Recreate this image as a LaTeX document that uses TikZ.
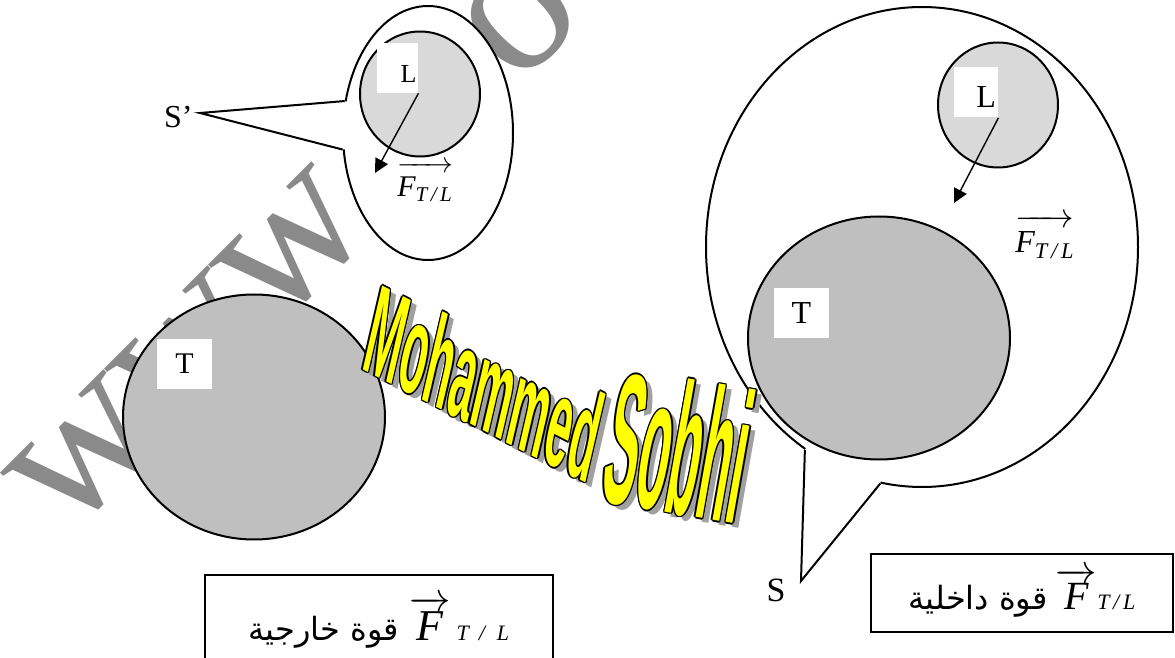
\documentclass[tikz,border=0pt]{standalone}
\usepackage{amsmath}
\usepackage{fontspec}
\setmainfont{Liberation Serif}
\newfontfamily\arabicfont[Script=Arabic]{DejaVu Sans}
\newfontfamily\artfont{Liberation Sans}
\TeXXeTstate=1
\usetikzlibrary{shapes.geometric, arrows.meta, calc}
\definecolor{moongray}{HTML}{D9D9D9}
\definecolor{earthgray}{HTML}{BFBFBF}
\definecolor{artyellow}{HTML}{FFFF00}
\definecolor{markgray}{HTML}{8A8A8A}
\definecolor{shadegray}{HTML}{A0A0A0}
\tikzset{
  bubble/.style={ellipse, draw=black, fill=white, line width=1pt, inner sep=0pt},
  moon/.style={ellipse, draw=black, fill=moongray, line width=1pt, inner sep=0pt},
  earth/.style={ellipse, draw=black, fill=earthgray, line width=1pt, inner sep=0pt},
  tag/.style={rectangle, fill=white, inner sep=0pt, minimum height=25pt, text depth=0pt},
  force/.style={-{Triangle[length=7pt,width=7pt]}, line width=0.7pt},
  pointer/.style={line width=1pt, line join=miter},
  flabel/.style={inner sep=0pt, anchor=base west},
  legend/.style={rectangle, draw=black, line width=1pt, inner sep=0pt},
  wordart/.style={font=\artfont\bfseries\fontsize{20}{20}\selectfont, inner sep=0pt, anchor=base west},
  watermark/.style={font=\fontsize{102}{102}\selectfont, text=markgray, inner sep=0pt,
                    anchor=base west, rotate=45},
}

\begin{document}
\begin{tikzpicture}[x=0.5pt, y=-0.5pt]
  \clip (0,0) rectangle (1175,658);
  \fill[white] (0,0) rectangle (1175,658);

  % --- watermark ---
  \node[watermark] (wm) at (66,540) {www.\kern79pt o};

  % --- bubble S' ---
  \node[bubble, minimum width=85pt, minimum height=127pt] (bubA) at (428,133) {};
  \coordinate (tipA) at (200,113);
  \fill[white] (tipA) -- (bubA.159) -- ($(bubA.159)!3pt!(bubA.center)$)
        -- ($(bubA.191)!3pt!(bubA.center)$) -- (bubA.191) -- cycle;
  \draw[pointer] (bubA.159) -- (tipA) -- (bubA.191);

  % --- bubble S ---
  \node[bubble, minimum width=216pt, minimum height=240pt] (bubB) at (922,247) {};
  \coordinate (tipB) at (801,581);
  \fill[white] (tipB) -- (bubB.240) -- ($(bubB.240)!3pt!(bubB.center)$)
        -- ($(bubB.260)!3pt!(bubB.center)$) -- (bubB.260) -- cycle;
  \draw[pointer] (bubB.240) -- (tipB) -- (bubB.260);

  % --- L and T bodies ---
  \node[moon, minimum width=60pt, minimum height=62.5pt] (moonA) at (420,94) {};
  \node[moon, minimum width=60pt, minimum height=62.5pt] (moonB) at (998,105) {};
  \node[earth, minimum width=131pt, minimum height=122.5pt] (earthA) at (254,417) {};
  \node[earth, minimum width=131pt, minimum height=121.5pt] (earthB) at (879,338) {};

  % --- letters ---
  \node[tag, minimum width=20.5pt, text width=19pt, align=right, text height=15pt,
        font=\fontsize{13}{15}\selectfont] (tagLA) at (397.5,68) {L};
  \node[tag, minimum width=22pt, text width=20pt, align=right, text height=14.6pt,
        font=\fontsize{16}{18}\selectfont] (tagLB) at (976,92.5) {L};
  \node[tag, minimum width=27.5pt, font=\fontsize{15}{17}\selectfont] (tagTA) at (184.5,364) {T};
  \node[tag, minimum width=27.5pt, font=\fontsize{16}{18}\selectfont] (tagTB) at (801.5,313) {T};

  % --- forces ---
  \coordinate (pullA) at (375,173);
  \coordinate (pullB) at (954,203);
  \draw[force] (tagLA.south east) -- (pullA);
  \draw[force] (tagLB.south east) -- (pullB);

  \node[flabel, font=\fontsize{15}{17}\selectfont] (fA) at (397,197)
    {$\overrightarrow{\rule{0pt}{12pt}\textit{F}_{\textit{T\,/\,L}}}$};
  \node[flabel, font=\fontsize{16}{18}\selectfont] (fB) at (1015,253)
    {$\overrightarrow{\rule{0pt}{13pt}\textit{F}_{\textit{T\,/\,L}}}$};

  % --- S labels ---
  \node[inner sep=0pt, anchor=east, font=\fontsize{16}{18}\selectfont] (sA) at (193,117) {S’};
  \node[inner sep=0pt, font=\fontsize{17}{19}\selectfont] (sB) at (776,590) {S};

  % --- legends ---
  \node[legend, minimum width=174pt, minimum height=47pt, anchor=north west] (boxA) at (204,574)
    {{\arabicfont\fontsize{16}{18}\selectfont\beginR قوة خارجية\endR}\hspace{5pt}%
     {\fontsize{22}{24}\selectfont$\overrightarrow{\textit{F}}$}\hspace{3pt}%
     {\fontsize{11}{13}\selectfont\textit{T\hspace{5pt}/\hspace{6pt}L}}};
  \node[legend, minimum width=151pt, minimum height=39pt, anchor=north west] (boxB) at (870,553)
    {{\arabicfont\fontsize{16}{18}\selectfont\beginR قوة داخلية\endR}\hspace{4pt}%
     {\fontsize{20}{22}\selectfont$\overrightarrow{\textit{F}}$}%
     {\fontsize{11}{13}\selectfont\textit{T\,/\,L}}};

  % --- word art ---
  \node[wordart, text=shadegray, cm={1.025,-0.522,0.704,3.049,(0,0)}] at (366,373) {Mohammed};
  \node[wordart, text=shadegray, cm={1.241,-0.219,0.811,4.599,(0,0)}] at (604,505) {Sobhi};
  \foreach \dx/\dy in {-1.5/0, 1.5/0, 0/-1.5, 0/1.5, -1/-1, -1/1, 1/-1, 1/1}{
    \node[wordart, text=black, cm={1.025,-0.522,0.704,3.049,(0,0)}] at (360+\dx,368+\dy) {Mohammed};
    \node[wordart, text=black, cm={1.241,-0.219,0.811,4.599,(0,0)}] at (598+\dx,500+\dy) {Sobhi};
  }
  \node[wordart, text=artyellow, cm={1.025,-0.522,0.704,3.049,(0,0)}] (artA) at (360,368) {Mohammed};
  \node[wordart, text=artyellow, cm={1.241,-0.219,0.811,4.599,(0,0)}] (artB) at (598,500) {Sobhi};

\end{tikzpicture}
\end{document}
